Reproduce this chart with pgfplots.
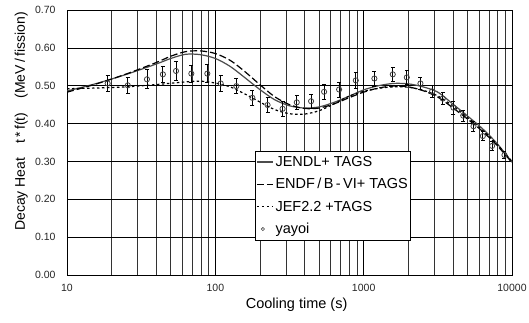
\documentclass[border=0pt]{standalone}
\usepackage{fontspec}
\setmainfont{Liberation Sans}
\usepackage{pgfplots}
\pgfplotsset{compat=1.18}
\usepackage{pgfplotstable}

\pgfplotstableread{
x y
10 0.486
15.85 0.506
25.12 0.530
39.81 0.557
50.12 0.572
63.10 0.583
79.43 0.582
100 0.572
125.9 0.551
158.5 0.521
199.5 0.490
251.2 0.463
316.2 0.447
398.1 0.441
501.2 0.444
631.0 0.456
794.3 0.472
1000 0.489
1259 0.500
1585 0.506
1995 0.505
2512 0.497
3162 0.483
3981 0.452
5012 0.420
6310 0.387
7943 0.347
10000 0.298
}\jendl

\pgfplotstableread{
x y
10 0.483
15.85 0.505
25.12 0.531
39.81 0.561
50.12 0.578
63.10 0.590
79.43 0.592
100 0.585
125.9 0.567
158.5 0.537
199.5 0.503
251.2 0.471
316.2 0.450
398.1 0.440
501.2 0.441
631.0 0.452
794.3 0.468
1000 0.483
1259 0.494
1585 0.499
1995 0.497
2512 0.487
3162 0.470
3981 0.442
5012 0.412
6310 0.380
7943 0.342
10000 0.297
}\endf

\pgfplotstableread{
x y
10 0.492
15.85 0.494
25.12 0.497
39.81 0.503
63.10 0.510
79.43 0.512
100 0.507
125.9 0.497
158.5 0.478
199.5 0.457
251.2 0.437
316.2 0.426
398.1 0.425
501.2 0.434
631.0 0.452
794.3 0.472
1000 0.485
1259 0.493
1585 0.497
1995 0.496
2512 0.488
3162 0.473
3981 0.447
5012 0.416
6310 0.383
7943 0.345
10000 0.300
}\jef

\pgfplotstableread{
x y e
18.8 0.506 0.022
25.7 0.501 0.022
34.6 0.517 0.025
44.3 0.530 0.022
54.3 0.539 0.025
68.9 0.532 0.022
88.3 0.532 0.024
108.7 0.506 0.022
138.6 0.499 0.020
177.6 0.468 0.020
225 0.449 0.020
284 0.439 0.020
354 0.456 0.018
442 0.459 0.018
541 0.484 0.020
683 0.490 0.020
885 0.514 0.022
1181 0.519 0.020
1571 0.530 0.019
1954 0.522 0.018
2414 0.506 0.016
2893 0.485 0.016
3415 0.466 0.016
4029 0.442 0.017
4686 0.421 0.014
5500 0.393 0.013
6358 0.367 0.012
7345 0.341 0.011
8895 0.317 0.010
}\yayoi

\begin{document}
\begin{tikzpicture}
\begin{axis}[
  at={(0pt,0pt)}, anchor=south west,
  scale only axis, width=445pt, height=265pt,
  xmode=log, xmin=10, xmax=10000,
  ymin=0, ymax=0.7,
  xtick={10,100,1000,10000},
  xticklabels={10,100,1000,10000},
  ytick={0,0.1,...,0.7},
  yticklabel style={xshift=-8pt, /pgf/number format/.cd, fixed, fixed zerofill, precision=2},
  /pgf/number format/assume math mode=true,
  ticklabel style={font=\fontsize{10.5}{12}\selectfont, text=black!85},
  xticklabel style={yshift=-6pt},
  major tick length=0pt, minor tick length=0pt,
  grid=both,
  major grid style={black, line width=0.6pt},
  minor grid style={black!80, line width=0.6pt},
  axis line style={black, line width=0.8pt},
  xlabel={Cooling time (s)},
  xlabel style={font=\fontsize{14.5}{16}\selectfont, at={(axis description cs:0.516,0)}, anchor=north, yshift=-19pt},
  ylabel={Decay Heat\hspace{14pt}t\,*\,f(t)\hspace{14pt}(MeV\,/\,fission)},
  ylabel style={font=\fontsize{14}{16}\selectfont, at={(axis description cs:-0.103,0.579)}, anchor=center},
  legend style={at={(axis description cs:0.4225,0.468)}, anchor=north west,
    font=\fontsize{14.5}{16}\selectfont, draw=black, line width=0.6pt, fill=white,
    cells={anchor=west}, inner xsep=1pt, inner ysep=3pt, row sep=6.5pt},
  legend image code/.code={\draw[#1] (0pt,0pt) -- (16pt,0pt);},
]
\addplot[black!70, line width=1.2pt, smooth] table[x=x,y=y]{\jendl};
\addlegendentry{JENDL+ TAGS}
\addplot[black, line width=1.2pt, smooth, dash pattern=on 7pt off 3pt] table[x=x,y=y]{\endf};
\addlegendentry{ENDF\,/\,B\,-\,VI+ TAGS}
\addplot[black, line width=1.2pt, smooth, dash pattern=on 2.5pt off 2.5pt] table[x=x,y=y]{\jef};
\addlegendentry{JEF2.2 +TAGS}
\addplot[only marks, black!75, mark=o, mark size=2.6pt, mark options={line width=0.8pt},
  legend image code/.code={\draw[black!75, line width=0.6pt] (6pt,0pt) circle (1.6pt);},
  error bars/.cd, y dir=both, y explicit,
  error bar style={black, line width=0.8pt},
  error mark options={rotate=90, mark size=2pt, line width=0.8pt, black}]
  table[x=x,y=y,y error=e]{\yayoi};
\addlegendentry{yayoi}
\end{axis}
\pgfresetboundingbox
\path (-67pt,-47pt) rectangle (462pt,275pt);
\end{tikzpicture}
\end{document}
